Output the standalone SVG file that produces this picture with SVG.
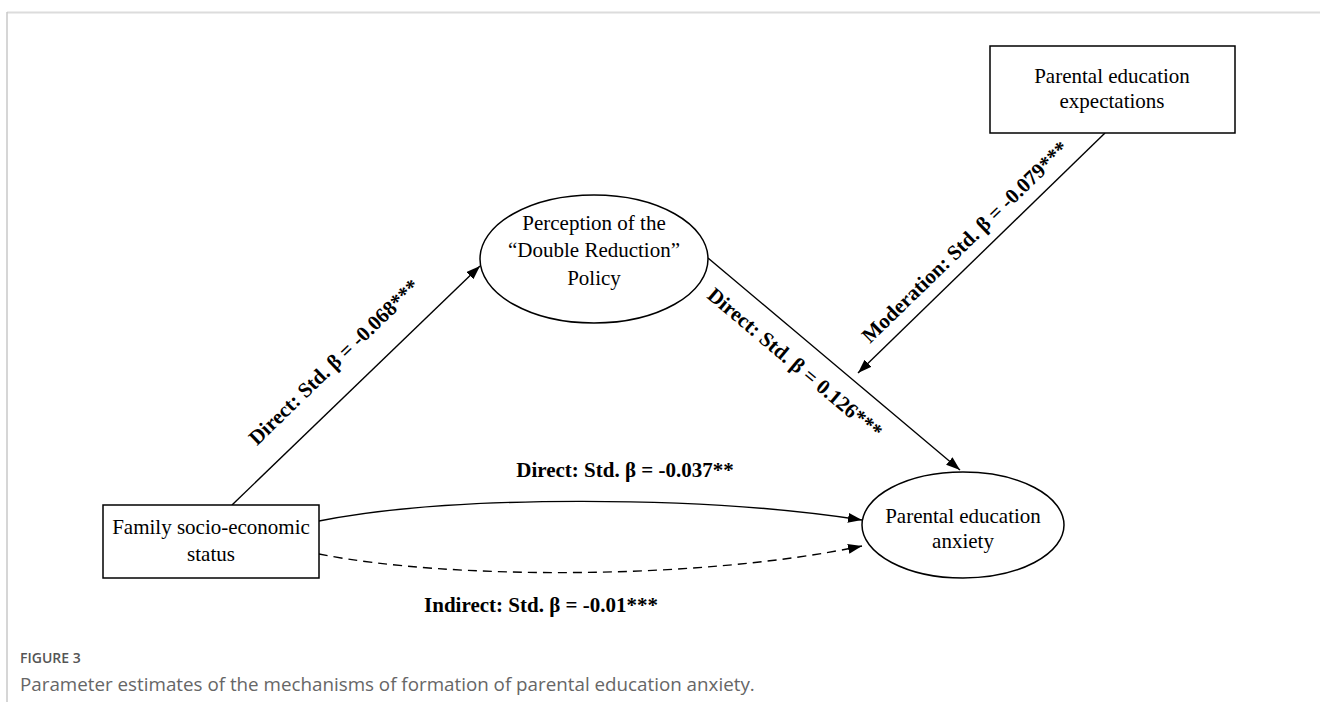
<svg xmlns="http://www.w3.org/2000/svg" width="1320" height="706" viewBox="0 0 1320 706">
<style>
.node{fill:#fff;stroke:#000;stroke-width:1.5}
.nt{font-family:"Liberation Serif","Times New Roman",serif;font-size:21px;fill:#000;text-anchor:middle}
.lbl{font-family:"Liberation Serif","Times New Roman",serif;font-size:21px;font-weight:bold;fill:#000;text-anchor:middle;dominant-baseline:central}
.edge{fill:none;stroke:#000;stroke-width:1.4}
.dash{stroke-dasharray:9 6}
.cap1{font-family:"Open Sans","Noto Sans",sans-serif;font-size:14px;font-weight:600;fill:#555}
.cap2{font-family:"Open Sans","Noto Sans",sans-serif;font-size:18.8px;fill:#666}
</style>
<defs>
<marker id="arr" markerUnits="userSpaceOnUse" markerWidth="16" markerHeight="12" refX="14" refY="5" orient="auto">
<path d="M0,0 L14,5 L0,10 Z" fill="#000"/>
</marker>
</defs>
<rect width="1320" height="706" fill="#fff"/>
<g id="frame">
<line x1="7" y1="12.5" x2="1320" y2="12.5" stroke="#dcdcdc" stroke-width="2"/>
<line x1="7" y1="12" x2="7" y2="702" stroke="#c8c8c8" stroke-width="1.5"/>
</g>
<g id="connectors">
<line class="edge" x1="232" y1="505" x2="480" y2="266" marker-end="url(#arr)"/>
<line class="edge" x1="708" y1="258" x2="960" y2="470" marker-end="url(#arr)"/>
<line class="edge" x1="1105" y1="133" x2="858" y2="373" marker-end="url(#arr)"/>
<path class="edge" d="M319,521 C450,495 700,495 862,520" marker-end="url(#arr)"/>
<path class="edge dash" d="M319,554 C450,580 700,580 862,546" marker-end="url(#arr)"/>
<text class="lbl" transform="translate(334,362) rotate(-44)">Direct: Std. β = -0.068***</text>
<text class="lbl" transform="translate(795,363) rotate(40.1)">Direct: Std. β = 0.126***</text>
<text class="lbl" transform="translate(965,242) rotate(-44.2)">Moderation: Std. β = -0.079***</text>
<text class="lbl" x="625" y="470">Direct: Std. β = -0.037**</text>
<text class="lbl" x="541" y="605">Indirect: Std. β = -0.01***</text>
</g>
<g id="node-expectations">
<rect class="node" x="990" y="46" width="245" height="87"/>
<text class="nt" x="1112" y="83">Parental education</text>
<text class="nt" x="1112" y="108">expectations</text>
</g>
<g id="node-perception">
<ellipse class="node" cx="594" cy="259" rx="114" ry="64"/>
<text class="nt" x="594" y="230">Perception of the</text>
<text class="nt" x="594" y="257">“Double Reduction”</text>
<text class="nt" x="594" y="285">Policy</text>
</g>
<g id="node-ses">
<rect class="node" x="103" y="505" width="216" height="73"/>
<text class="nt" x="211" y="534">Family socio-economic</text>
<text class="nt" x="211" y="561">status</text>
</g>
<g id="node-anxiety">
<ellipse class="node" cx="963" cy="525" rx="101" ry="53"/>
<text class="nt" x="963" y="523">Parental education</text>
<text class="nt" x="963" y="548">anxiety</text>
</g>
<g id="caption">
<text class="cap1" x="20" y="663">FIGURE 3</text>
<text class="cap2" x="20" y="691">Parameter estimates of the mechanisms of formation of parental education anxiety.</text>
</g>
</svg>
